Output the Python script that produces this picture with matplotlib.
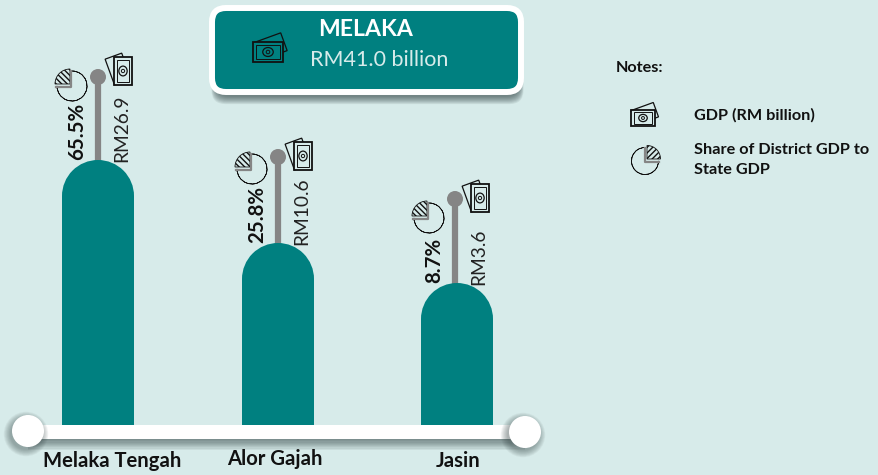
import matplotlib
matplotlib.use('Agg')
import matplotlib.pyplot as plt
from matplotlib.patches import Circle, FancyBboxPatch, Ellipse, Rectangle, Wedge
from matplotlib.transforms import Affine2D

plt.rcParams['font.family'] = ['Lato', 'DejaVu Sans']
plt.rcParams['hatch.linewidth'] = 1.0

BG = '#d7ebea'
TEAL = '#008080'
GREY = '#858585'
INK = '#111111'
SHADOW = '#2f3f3f'

# values
districts = ['Melaka Tengah', 'Alor Gajah', 'Jasin']
gdp = [26.9, 10.6, 3.6]
share = [65.5, 25.8, 8.7]
# drawn bar height in the infographic, not proportional to gdp
bar_height = [265, 182, 142]
state_name = 'MELAKA'
state_gdp = 41.0

BASE = 425
bar_x = [98, 278, 457]
stem_x = [98, 278, 455]
stem_top = [77, 157, 199]
name_pos = [(112, 461), (275, 459), (458, 461)]
pie_dy = [9, 12, 19]
money_dy = [-6, -1, -1]
BAR_R = 36


fig = plt.figure(figsize=(8.79, 4.75), dpi=100, facecolor=BG)
ax = fig.add_axes([0, 0, 1, 1])
ax.set_xlim(0, 879)
ax.set_ylim(475, 0)
ax.axis('off')


def money(cx, cy, size=1.0, rot=0, face=BG, z=6):
    """Banknote icon centred on the front note, turned by rot degrees."""
    tr = Affine2D().scale(size).rotate_deg(rot).translate(cx, cy) + ax.transData
    back = Affine2D().rotate_deg(-20).translate(2, -5).scale(size)
    back = back.rotate_deg(rot).translate(cx, cy) + ax.transData
    ax.add_patch(Rectangle((-14, -9), 28, 18, fc=face, ec=INK, lw=0.9, transform=back, zorder=z))
    ax.add_patch(Rectangle((-14, -9.5), 28, 19, fc=face, ec=INK, lw=1.3, transform=tr, zorder=z + 1))
    ax.add_patch(Rectangle((-11, -6.5), 22, 13, fc='none', ec=INK, lw=0.7, transform=tr, zorder=z + 1))
    ax.add_patch(Ellipse((0, 0), 10, 8.5, fc='none', ec=INK, lw=0.9, transform=tr, zorder=z + 1))
    ax.add_patch(Circle((0, 0), 1.7, fc='none', ec=INK, lw=0.7, transform=tr, zorder=z + 1))


def pie(cx, cy, r=15, right=False):
    """Share icon: open circle, hatched slice pulled out at upper left or upper right."""
    if right:
        start, end, dx = 270, 360, 2
        base = [cx + r + 1, cx + 0.5, cx + 0.5]
    else:
        start, end, dx = 180, 270, -2
        base = [cx - r - 1, cx - 0.5, cx - 0.5]
    ax.add_patch(Wedge((cx, cy), r, end, start + 360, width=0.01, fc='none', ec=INK, lw=0.55, zorder=6))
    ax.add_patch(Wedge((cx + dx, cy - 2), r, start, end, fc=BG, ec=INK, lw=0.6,
                       hatch='//////' if right else '\\\\\\\\\\\\', zorder=7))
    ax.plot(base, [cy + 0.5, cy + 0.5, cy - r], color=GREY, lw=1.6, zorder=8)


# bars with a dome on top
for x, h in zip(bar_x, bar_height):
    top = BASE - h
    ax.add_patch(Rectangle((x - BAR_R, top + BAR_R), 2 * BAR_R, h - BAR_R, fc=TEAL, ec='none', zorder=3))
    ax.add_patch(Wedge((x, top + BAR_R), BAR_R, 180, 360, fc=TEAL, ec='none', zorder=3))

# stems and labels
for i, (x, t, h, g, s) in enumerate(zip(stem_x, stem_top, bar_height, gdp, share)):
    top = BASE - h
    ax.plot([x, x], [t, top + 3], color=GREY, lw=4.5, solid_capstyle='butt', zorder=2)
    ax.add_patch(Circle((x, t), 8, fc=GREY, ec='none', zorder=4))
    ax.text(x - 21, top, f'{s}%', rotation=90, ha='center', va='bottom', fontsize=14.7,
            fontweight='bold', color=INK, zorder=5)
    ax.text(x + 24, top + 2, f'RM{g}', rotation=90, ha='center', va='bottom', fontsize=13.8,
            color='#222222', zorder=5)
    pie(x - 26, t + pie_dy[i])
    money(x + 25, t + money_dy[i], 0.98, rot=-90)

# base line with shadow underneath
for i in range(9, 0, -1):
    ax.add_patch(Rectangle((28, 432), 497, 7 + i * 1.2, fc=SHADOW, alpha=0.08, ec='none', zorder=3.5))
ax.add_patch(Rectangle((28, 425), 497, 14, fc='white', ec='none', zorder=4))
for x, y in [(28, 431), (525, 432)]:
    for i in range(8, 0, -1):
        ax.add_patch(Circle((x - 2, y + 3), 15 + i * 0.9, fc=SHADOW, alpha=0.06, ec='none', zorder=4.5))
    ax.add_patch(Circle((x, y), 16, fc='white', ec='none', zorder=5))

for name, (x, y) in zip(districts, name_pos):
    ax.text(x, y, name, ha='center', va='center', fontsize=14.6, fontweight='bold', color=INK, zorder=6)

# title box
for i in range(9, 0, -1):
    ax.add_patch(FancyBboxPatch((216 - i * 0.5, 20), 303 + i, 76 + i * 0.9,
                                boxstyle='round,pad=0,rounding_size=14', fc=SHADOW, alpha=0.09,
                                ec='none', zorder=6))
ax.add_patch(FancyBboxPatch((212, 8), 309, 84, boxstyle='round,pad=0,rounding_size=14',
                            fc=TEAL, ec='white', lw=4.3, zorder=7))
ax.text(366, 30, state_name, ha='center', va='center', fontsize=16.6, fontweight='bold', color='white', zorder=8)
ax.text(379, 60, f'RM{state_gdp} billion', ha='center', va='center', fontsize=15.5, color='#d7ebea', zorder=8)
money(268, 52, 1.05, face=TEAL, z=8)

# notes
ax.text(616, 68, 'Notes:', ha='left', va='center', fontsize=11.7, fontweight='bold', color=INK)
money(643, 118, 0.85)
ax.text(694, 115, 'GDP (RM billion)', ha='left', va='center', fontsize=11.7, fontweight='bold', color=INK)
pie(645, 161, 13.5, right=True)
ax.text(694, 150, 'Share of District GDP to', ha='left', va='center', fontsize=11.7, fontweight='bold', color=INK)
ax.text(694, 170, 'State GDP', ha='left', va='center', fontsize=11.7, fontweight='bold', color=INK)

fig.savefig('out.png', dpi=100, facecolor=BG)
